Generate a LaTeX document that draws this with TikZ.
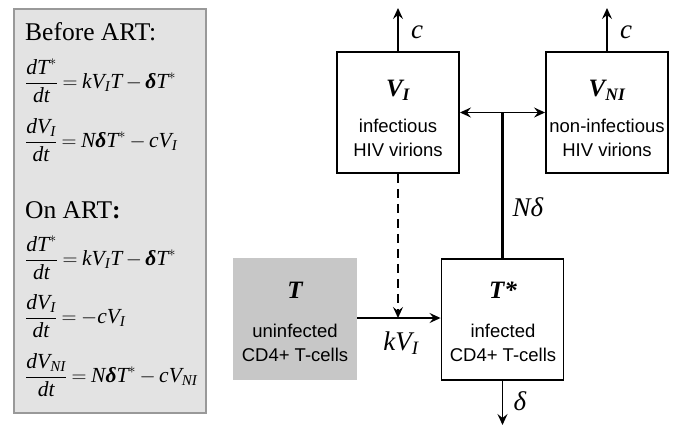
\documentclass[tikz,border=0pt]{standalone}
\usepackage{amsmath}
\usepackage{fontspec}
\setmainfont{Liberation Serif}
\setsansfont{Liberation Sans}
\usetikzlibrary{arrows.meta}
\newcommand{\mv}[1]{\text{\itshape #1}}
\newcommand{\bdelta}{\text{\bfseries\itshape δ}}
\newcommand{\eqsp}{\thickmuskip=4mu\relax\medmuskip=3mu\relax}
\tikzset{
  box/.style={draw=black, line width=1.9pt, minimum width=122pt, minimum height=121pt, inner sep=0pt},
  tbox/.style={fill=black!22, minimum width=124pt, minimum height=122pt, inner sep=0pt},
  title/.style={font=\fontsize{25}{28}\selectfont\bfseries, inner sep=0pt},
  desc/.style={font=\sffamily\fontsize{18.5}{23.5}\selectfont, align=center, inner sep=0pt},
  lab/.style={font=\fontsize{27}{29}\selectfont, inner sep=0pt},
  flow/.style={line width=1.7pt, -{Stealth[length=11pt,width=10pt,inset=4pt]}},
  eq/.style={font=\fontsize{21.5}{24}\selectfont\eqsp, anchor=base west, inner sep=0pt},
  head/.style={font=\fontsize{25.5}{28}\selectfont, anchor=west, inner sep=0pt},
}
\begin{document}
\begin{tikzpicture}[x=1pt,y=-1pt]
\useasboundingbox (0,0) rectangle (675,429);
% left panel
\node[draw=black!40, line width=2pt, fill=black!11, minimum width=192pt, minimum height=404pt, anchor=north west, inner sep=0pt] (panel) at (13,8) {};
\node[head] (h1) at (25,32) {Before ART:};
\node[eq] (e1) at (25,88.5) {$\dfrac{\mv{dT}^{*}}{\mv{dt}} = \mv{kV}_{\mv{I}}\mv{T} - \bdelta\mv{T}^{*}$};
\node[eq] (e2) at (25,147.5) {$\dfrac{\mv{dV}_{\mv{I}}}{\mv{dt}} = \mv{N}\bdelta\mv{T}^{*} - \mv{cV}_{\mv{I}}$};
\node[head] (h2) at (25,210) {On ART\textbf{:}};
\node[eq] (e3) at (25,265.5) {$\dfrac{\mv{dT}^{*}}{\mv{dt}} = \mv{kV}_{\mv{I}}\mv{T} - \bdelta\mv{T}^{*}$};
\node[eq] (e4) at (25,323.5) {$\dfrac{\mv{dV}_{\mv{I}}}{\mv{dt}} = -\mv{cV}_{\mv{I}}$};
\node[eq] (e5) at (25,382.5) {$\dfrac{\mv{dV}_{\mv{NI}}}{\mv{dt}} = \mv{N}\bdelta\mv{T}^{*} - \mv{cV}_{\mv{NI}}$};
% boxes
\node[box] (VI) at (398,112.5) {};
\node[box] (VNI) at (607,112.5) {};
\node[tbox] (T) at (295,319) {};
\node[box] (Ts) at (502.5,319.5) {};
% box texts
\node[title] (VIt) at (398,90) {$\mv{V}_{\mv{I}}$};
\node[desc] (VId) at (398,138) {infectious\\HIV virions};
\node[title] (VNIt) at (607,90) {$\mv{V}_{\mv{NI}}$};
\node[desc] (VNId) at (607,138) {non-infectious\\HIV virions};
\node[title] (Tt) at (295,290) {\itshape T};
\node[desc] (Td) at (295,343) {uninfected\\CD4+ T-cells};
\node[title] (Tst) at (503,290) {\itshape T*};
\node[desc] (Tsd) at (503,343) {infected\\CD4+ T-cells};
% coordinates
\coordinate (cVI) at (398,8);
\coordinate (cVNI) at (607,8);
\coordinate (J) at (502.5,112.5);
\coordinate (K) at (398,318);
\coordinate (D) at (502.5,425);
% connectors
\draw[flow] (VI.north) -- (cVI);
\draw[flow] (VNI.north) -- (cVNI);
\node[lab] (c1) at (417,32) {\itshape c};
\node[lab] (c2) at (626,32) {\itshape c};
\draw[flow] (J) -- (VI.east |- J);
\draw[flow] (J) -- (VNI.west |- J);
\draw[line width=2.5pt] (J) -- (Ts.north);
\node[lab] (Nd) at (528,207) {\itshape Nδ};
\draw[flow] (T.east |- K) -- (Ts.west |- K);
\draw[flow, dashed, dash pattern=on 9pt off 6pt] (VI.south) -- (K);
\node[lab] (kv) at (401,343) {$\mv{kV}_{\mv{I}}$};
\draw[flow] (Ts.south) -- (D);
\node[lab] (dl) at (520,401) {\itshape δ};
\end{tikzpicture}
\end{document}
